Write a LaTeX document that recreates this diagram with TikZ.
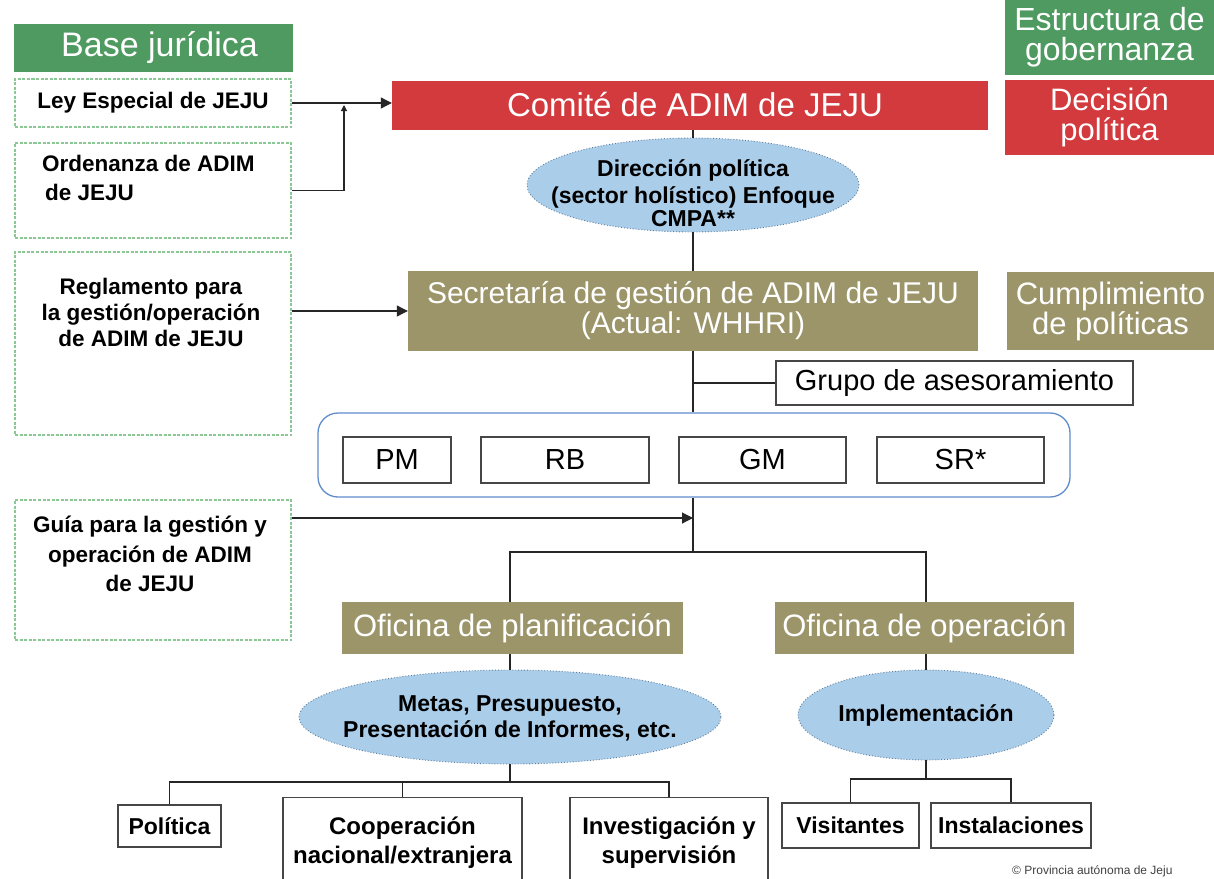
\documentclass[tikz,border=0pt]{standalone}
\usepackage{fontspec}
\setmainfont{Liberation Sans}
\usetikzlibrary{shapes.geometric,arrows.meta}
\definecolor{hgreen}{RGB}{78,154,96}
\definecolor{hred}{RGB}{210,58,62}
\definecolor{olive}{RGB}{156,149,106}
\definecolor{dashgreen}{RGB}{140,200,150}
\definecolor{ellfill}{RGB}{170,205,234}
\definecolor{elldraw}{RGB}{95,125,155}
\definecolor{grpblue}{RGB}{95,140,205}
\definecolor{boxgray}{RGB}{70,70,70}
\newcommand{\fs}[1]{\fontsize{#1}{#1}\selectfont}
\tikzset{
  x=1pt, y=-1pt,
  solidbox/.style={rectangle, inner sep=0pt, text=white, align=center},
  legal/.style={rectangle, draw=dashgreen, line width=1.2pt, dash pattern=on 3pt off 1.5pt, inner sep=0pt},
  plain/.style={rectangle, draw=boxgray, line width=1.1pt, fill=white, inner sep=0pt, align=center},
  oval/.style={ellipse, fill=ellfill, draw=elldraw, line width=0.9pt, dotted, inner sep=0pt},
  ovaltext/.style={font=\bfseries\fs{23}, align=center, inner sep=0pt},
  conn/.style={draw=black!85, line width=1.1pt},
  arr/.style={conn, -{Triangle[length=11pt,width=11pt]}},
  smallarr/.style={conn, -{Triangle[length=6pt,width=6pt]}},
  ltext/.style={font=\bfseries\fs{22.5}, align=center, inner sep=0pt},
  btext/.style={font=\bfseries\fs{23}, align=center, inner sep=0pt}
}
\begin{document}
\begin{tikzpicture}
\useasboundingbox (0,0) rectangle (1214,878);
\clip (0,0) rectangle (1214,878);
% left column
\node[solidbox, fill=hgreen, minimum width=279pt, minimum height=48pt, font=\fs{34}] (base) at (153.5,48) {\hspace*{12pt}Base jurídica};
\node[legal, minimum width=276pt, minimum height=48pt, font=\bfseries\fs{22.5}] (ley) at (153,103) {Ley Especial de JEJU};
\node[legal, minimum width=276pt, minimum height=95pt] (ord) at (153,190.5) {};
\node[ltext, anchor=west, align=left] (ordt) at (42,178) {Ordenanza de ADIM\\[6pt]\hspace*{3pt}de JEJU};
\node[legal, minimum width=276pt, minimum height=183pt] (regl) at (153,343.5) {};
\node[ltext] (reglt) at (151,312) {Reglamento para\\[3.5pt]la gestión/operación\\[3.5pt]de ADIM de JEJU};
\node[legal, minimum width=276pt, minimum height=140pt] (guia) at (153,570) {};
\node[ltext] (guiat) at (150,554) {Guía para la gestión y\\[7pt]operación de ADIM\\[7pt]de JEJU};
% right column
\node[solidbox, fill=hgreen, minimum width=209pt, minimum height=75pt, font=\fs{32}] (estr) at (1109.5,37) {Estructura de\\[-2pt]gobernanza};
\node[solidbox, fill=hred, minimum width=209pt, minimum height=75pt, font=\fs{31}] (dec) at (1109.5,117.5) {Decisión\\[-1pt]política};
\node[solidbox, fill=olive, minimum width=207pt, minimum height=78pt, font=\fs{31}] (cump) at (1110.5,311) {Cumplimiento\\[-1pt]de políticas};
% centre
\node[solidbox, fill=hred, minimum width=596pt, minimum height=49pt, font=\fs{33}] (comite) at (690,105) {\hspace*{10pt}Comité de ADIM de JEJU};
\node[oval, minimum width=332pt, minimum height=94pt] (dir) at (693,185) {};
\node[ovaltext] (dirt) at (693,193) {Dirección política\\[4pt](sector holístico) Enfoque\\[0pt]CMPA**};
\node[solidbox, fill=olive, minimum width=570pt, minimum height=80pt, font=\fs{30}] (secr) at (693,311) {Secretaría de gestión de ADIM de JEJU\\[0pt](Actual: WHHRI)};
\node[plain, minimum width=357pt, minimum height=44pt, font=\fs{29}] (grupo) at (954.5,383) {Grupo de asesoramiento};
\node[rectangle, draw=grpblue, line width=1.3pt, rounded corners=20pt, minimum width=752pt, minimum height=84pt] (grp) at (694,455) {};
\node[plain, minimum width=108pt, minimum height=46pt, font=\fs{29}] (pm) at (397,460) {PM};
\node[plain, minimum width=168pt, minimum height=46pt, font=\fs{29}] (rb) at (565,460) {RB};
\node[plain, minimum width=167pt, minimum height=46pt, font=\fs{29}] (gm) at (762.5,460) {GM};
\node[plain, minimum width=167pt, minimum height=46pt, font=\fs{29}] (sr) at (960.5,460) {SR*};
\coordinate (split) at (693,552);
\coordinate (gin) at (693,518);
\node[solidbox, fill=olive, minimum width=341pt, minimum height=52pt, font=\fs{31}] (ofplan) at (512.5,628) {Oficina de planificación};
\node[solidbox, fill=olive, minimum width=299pt, minimum height=52pt, font=\fs{31}] (ofop) at (924.5,628) {Oficina de operación};
\node[oval, minimum width=422pt, minimum height=94pt] (metas) at (510,717) {};
\node[ovaltext] (metast) at (510,718) {Metas, Presupuesto,\\[3pt]Presentación de Informes, etc.};
\node[oval, minimum width=256pt, minimum height=90pt] (impl) at (926,715) {};
\node[ovaltext] (implt) at (926,715) {Implementación};
% bottom row
\node[plain, minimum width=103pt, minimum height=42pt, btext] (pol) at (169.5,826) {Política};
\node[plain, minimum width=239pt, minimum height=89pt, anchor=north] (coop) at (402.5,797) {};
\node[btext, font=\bfseries\fs{24}] (coopt) at (402.5,843) {Cooperación\\[5pt]nacional/extranjera};
\node[plain, minimum width=198pt, minimum height=89pt, anchor=north] (inv) at (669,797) {};
\node[btext, font=\bfseries\fs{24}] (invt) at (669,843) {Investigación y\\[5pt]supervisión};
\node[plain, minimum width=137pt, minimum height=45pt, btext] (vis) at (850.5,825.5) {Visitantes};
\node[plain, minimum width=160pt, minimum height=45pt, btext] (ins) at (1011,825.5) {Instalaciones};
\coordinate (b1) at (510,782);
\coordinate (b2) at (926,779);
\coordinate (j1) at (344,105);
\node[anchor=base west, inner sep=0pt, font=\fs{12}, text=black!75] (copy) at (1012,874) {© Provincia autónoma de Jeju};
% connectors
\draw[arr] (ley.east) -- (ley.east -| comite.west);
\draw[smallarr] (ord.east) -| (j1);
\draw[conn] (comite.south -| dir.north) -- (dir.north);
\draw[conn] (dir.south) -- (secr.north);
\draw[arr] (regl.east |- secr.west) -- (secr.west);
\draw[conn] (secr.south) -- (grp.north -| secr.south);
\draw[conn] (grupo.west -| secr.south) -- (grupo.west);
\draw[conn] (grp.south -| secr.south) -- (split);
\draw[arr] (guia.east |- gin) -- (gin);
\draw[conn] (metas.north |- ofplan.north) |- (split) -| (impl.north |- ofop.north);
\draw[conn] (metas.north |- ofplan.south) -- (metas.north);
\draw[conn] (impl.north |- ofop.south) -- (impl.north);
\draw[conn] (metas.south) -- (b1);
\draw[conn] (pol.north) |- (b1) -| (inv.north);
\draw[conn] (b1 -| coop.north) -- (coop.north);
\draw[conn] (impl.south) -- (b2);
\draw[conn] (vis.north) |- (b2) -| (ins.north);
\end{tikzpicture}
\end{document}
